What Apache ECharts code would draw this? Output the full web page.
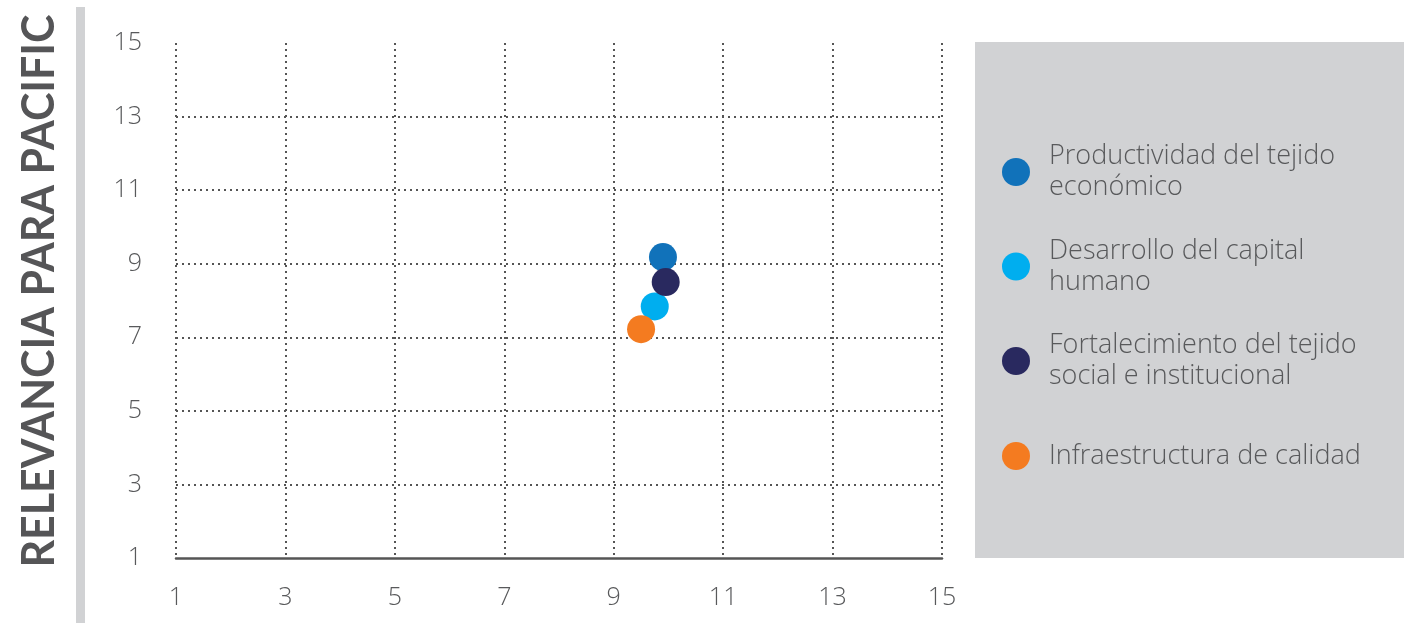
<!DOCTYPE html>
<html>
<head>
<meta charset="utf-8">
<script src="https://cdn.jsdelivr.net/npm/echarts@6/dist/echarts.min.js"></script>
<style>
  html, body { margin: 0; padding: 0; background: #ffffff; }
  #chart { width: 1404px; height: 623px; }
</style>
</head>
<body>
<div id="chart"></div>
<script>
// Scatter of strategic pillars: x and y scores on a 1–15 scale
const seriesNames = [
  'Productividad del tejido\necon\u00f3mico',
  'Desarrollo del capital\nhumano',
  'Fortalecimiento del tejido\nsocial e institucional',
  'Infraestructura de calidad'
];
const seriesColors = ['#1172ba', '#00aeef', '#29295f', '#f47b20'];
const xValues = [9.9, 9.75, 9.95, 9.5];
const yValues = [9.18, 7.84, 8.5, 7.22];
const axisTicks = [1, 3, 5, 7, 9, 11, 13, 15];
const yAxisTitle = 'RELEVANCIA PARA PACIFIC';

const textColor = '#58595b';
const dotted = { color: '#555555', width: 2, type: [2, 4] };

// vertical title: large bold caps, squeezed along its length to a fixed span
const titleFont = 'bold 46px Lato';
const titleSpan = 553;
const measureCtx = document.createElement('canvas').getContext('2d');
measureCtx.font = titleFont;
const titleScale = Math.min(1, titleSpan / measureCtx.measureText(yAxisTitle).width);

const chart = echarts.init(document.getElementById('chart'));

const series = seriesNames.map((name, i) => ({
  name: name,
  type: 'scatter',
  symbol: 'circle',
  symbolSize: 28,
  itemStyle: { color: seriesColors[i], opacity: 1 },
  data: [[xValues[i], yValues[i]]],
  z: 5
}));

const legendData = seriesNames.map((name) => {
  const item = { name: name };
  // single-line entry gets symmetric padding so rows stay evenly spaced
  if (name.indexOf('\n') < 0) {
    item.textStyle = { padding: [16, 0, 16, 14] };
  }
  return item;
});

const tickFont = { color: textColor, fontSize: 25, fontFamily: 'Open Sans', fontWeight: 300 };

chart.setOption({
  animation: false,
  backgroundColor: '#ffffff',
  graphic: [
    { type: 'rect', left: 76, top: 7, shape: { width: 9, height: 616 }, style: { fill: '#d1d2d4' }, z: -10 },
    { type: 'rect', left: 975, top: 42, shape: { width: 429, height: 516 }, style: { fill: '#d1d2d4' }, z: -10 },
    {
      type: 'text',
      x: 39, y: 291,
      rotation: Math.PI / 2,
      scaleX: titleScale,
      style: {
        text: yAxisTitle,
        fill: '#555557',
        font: titleFont,
        align: 'center',
        verticalAlign: 'middle'
      },
      z: 10
    }
  ],
  grid: { left: 176, right: 462, top: 43, bottom: 65, containLabel: false },
  xAxis: {
    type: 'value',
    min: axisTicks[0],
    max: axisTicks[axisTicks.length - 1],
    interval: 2,
    axisLine: { show: true, onZero: false, lineStyle: { color: '#555555', width: 2.5 } },
    axisTick: { show: false },
    axisLabel: Object.assign({ margin: 27 }, tickFont),
    splitLine: { show: true, showMinLine: true, showMaxLine: true, lineStyle: dotted }
  },
  yAxis: {
    type: 'value',
    min: axisTicks[0],
    max: axisTicks[axisTicks.length - 1],
    interval: 2,
    axisLine: { show: false },
    axisTick: { show: false },
    axisLabel: Object.assign({ margin: 34 }, tickFont),
    splitLine: { show: true, showMinLine: false, showMaxLine: false, lineStyle: dotted }
  },
  legend: {
    orient: 'vertical',
    left: 1002,
    top: 141,
    padding: 0,
    itemGap: 32.5,
    itemWidth: 28,
    itemHeight: 28,
    icon: 'circle',
    selectedMode: false,
    data: legendData,
    textStyle: {
      color: textColor,
      fontSize: 27,
      fontFamily: 'Open Sans',
      fontWeight: 300,
      lineHeight: 31,
      padding: [0, 0, 0, 14]
    }
  },
  series: series
});
</script>
</body>
</html>
